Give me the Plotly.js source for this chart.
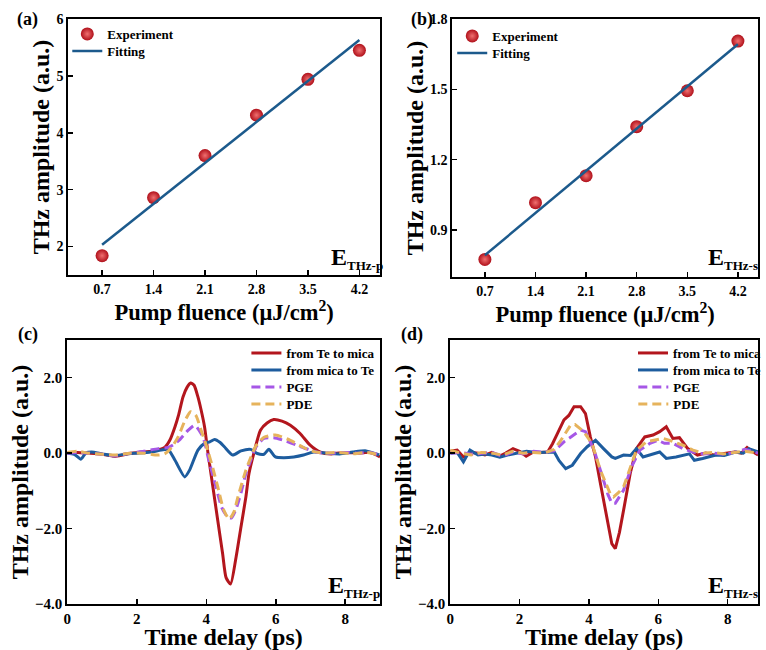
<!DOCTYPE html>
<html><head><meta charset="utf-8">
<script src="https://cdn.plot.ly/plotly-3.0.1.min.js"></script>
<style>html,body{margin:0;padding:0;background:#fff}#plot{width:766px;height:650px}</style>
</head><body><div id="plot"></div>
<script>
// ---- data (a), (b) ----
const fluence = [0.7, 1.4, 2.1, 2.8, 3.5, 4.2];
const ampP = [1.84, 2.86, 3.60, 4.31, 4.94, 5.45];
const ampS = [0.775, 1.017, 1.132, 1.341, 1.494, 1.706];
const fitX = [0.7, 4.2];
const fitP = [2.03, 5.63];
const fitS = [0.793, 1.692];

// ---- data (c) E_THz-p ----
const tCred = [0,0.3,0.6,1.0,1.4,1.8,2.2,2.5,2.8,2.95,3.1,3.2,3.33,3.45,3.55,3.65,3.76,3.85,3.95,4.05,4.19,4.33,4.47,4.57,4.70,4.85,5.0,5.14,5.23,5.37,5.56,5.75,5.94,6.18,6.42,6.70,6.99,7.27,7.6,8.0,8.4,8.7,9.0];
const vCred = [0,0.02,0.0,-0.03,-0.08,-0.01,0.03,0.06,0.15,0.34,0.70,1.0,1.49,1.75,1.86,1.80,1.49,1.15,0.70,0.0,-0.89,-1.78,-2.66,-3.30,-3.47,-2.80,-1.95,-1.16,-0.54,0.0,0.61,0.80,0.89,0.85,0.74,0.52,0.21,0.03,-0.02,0.02,0.0,0.02,-0.1];
const tCblue = [0,0.2,0.39,0.53,0.7,1.0,1.34,1.7,2.0,2.4,2.7,2.9,3.1,3.38,3.52,3.76,3.95,4.1,4.24,4.4,4.52,4.76,5.0,5.28,5.47,5.66,5.80,5.99,6.23,6.52,6.80,7.09,7.46,7.84,8.22,8.6,8.98];
const vCblue = [0,-0.03,-0.16,0.0,0.03,-0.02,-0.07,-0.02,0.0,0.03,0.08,0.1,-0.19,-0.63,-0.45,0.08,0.26,0.30,0.36,0.28,0.17,-0.05,0.06,0.10,-0.01,-0.03,0.10,-0.1,-0.12,-0.1,-0.05,0.03,0.0,-0.02,0.03,0.06,-0.05];
const tCpge = [0,0.3,0.6,1.0,1.4,1.8,2.2,2.62,2.9,3.05,3.24,3.48,3.67,3.85,3.95,4.05,4.28,4.45,4.62,4.72,4.85,5.0,5.14,5.28,5.42,5.66,5.94,6.23,6.61,6.99,7.27,7.6,8.0,8.4,8.7,9.0];
const vCpge = [0,0.02,0.0,-0.03,-0.07,0.0,0.05,0.12,0.15,0.22,0.36,0.61,0.74,0.52,0.30,-0.1,-0.9,-1.45,-1.70,-1.72,-1.50,-1.05,-0.54,-0.19,0.15,0.39,0.41,0.34,0.21,0.08,0.01,0.0,0.02,0.0,0.02,-0.05];
const tCpde = [0,0.3,0.6,1.0,1.4,1.8,2.2,2.6,2.8,3.0,3.19,3.38,3.55,3.7,3.85,3.95,4.05,4.19,4.33,4.5,4.66,4.80,4.90,5.14,5.28,5.42,5.66,5.99,6.42,6.80,7.1,7.4,7.8,8.2,8.6,9.0];
const vCpde = [0.02,0.05,0.0,-0.03,-0.05,0.0,0.0,-0.05,-0.02,0.15,0.43,0.85,1.10,1.00,0.61,0.35,0.05,-0.4,-0.89,-1.5,-1.75,-1.55,-1.2,-0.45,-0.12,0.18,0.42,0.48,0.34,0.15,0.04,0.0,0.02,-0.02,0.02,-0.05];

// ---- data (d) E_THz-s ----
const tDred = [0,0.2,0.38,0.6,0.8,1.0,1.2,1.43,1.6,1.81,2.0,2.19,2.4,2.6,2.81,2.95,3.09,3.28,3.42,3.57,3.76,3.90,4.04,4.19,4.33,4.52,4.66,4.76,4.88,5.0,5.19,5.37,5.61,5.85,6.04,6.23,6.33,6.42,6.61,6.85,7.13,7.37,7.6,7.9,8.2,8.4,8.56,8.7,8.88];
const vDred = [0.05,0.08,-0.1,0.02,0.0,-0.05,0.02,-0.08,0.0,0.12,0.05,-0.08,0.03,0.02,0.03,0.25,0.52,0.88,1.0,1.23,1.23,1.05,0.43,-0.1,-0.8,-1.78,-2.4,-2.53,-2.1,-1.51,-0.54,0.12,0.43,0.48,0.57,0.70,0.55,0.39,0.41,0.12,-0.05,0.0,-0.05,0.0,0.03,0.0,0.15,0.05,-0.05];
const tDblue = [0,0.2,0.38,0.57,0.8,1.0,1.2,1.43,1.65,1.9,2.2,2.5,2.8,3.0,3.14,3.33,3.52,3.76,3.95,4.19,4.42,4.66,4.76,5.0,5.2,5.37,5.56,5.85,6.04,6.23,6.51,6.9,7.04,7.28,7.66,7.9,8.23,8.45,8.61,8.88];
const vDblue = [0,0.02,-0.23,0.08,-0.05,-0.02,-0.05,-0.11,-0.05,0.0,0.05,0.02,0.03,0.03,-0.2,-0.41,-0.32,-0.01,0.17,0.34,0.12,-0.1,-0.14,-0.05,-0.06,0.12,-0.1,-0.02,0.03,-0.14,-0.1,-0.02,-0.19,-0.14,-0.05,-0.06,0.03,0.0,0.12,0.03];
const tDpge = [0,0.3,0.6,0.9,1.2,1.5,1.8,2.1,2.4,2.7,3.0,3.28,3.57,3.76,3.9,4.04,4.19,4.38,4.55,4.66,4.76,5.0,5.23,5.47,5.76,5.99,6.18,6.42,6.71,7.0,7.3,7.6,7.9,8.2,8.5,8.88];
const vDpge = [0,0.02,-0.03,0.0,0.02,-0.08,0.03,-0.02,0.05,0.02,0.06,0.30,0.48,0.61,0.57,0.30,-0.04,-0.63,-1.1,-1.33,-1.33,-0.98,-0.36,0.08,0.26,0.34,0.26,0.26,0.12,0.03,-0.02,0.0,-0.03,0.02,0.1,0.0];
const tDpde = [0,0.3,0.6,0.9,1.2,1.5,1.8,2.1,2.4,2.7,3.0,3.19,3.47,3.6,3.85,4.09,4.33,4.61,4.71,4.85,5.0,5.19,5.37,5.66,5.9,6.14,6.33,6.71,7.0,7.3,7.6,7.9,8.2,8.5,8.88];
const vDpde = [0.08,0.0,-0.05,0.02,0.0,-0.05,0.05,0.0,0.02,0.0,0.10,0.34,0.74,0.76,0.57,0.25,-0.45,-1.07,-1.16,-1.05,-0.89,-0.36,0.08,0.30,0.35,0.39,0.34,0.21,0.08,0.0,0.02,-0.02,0.02,0.05,0.0];

const names = ['from Te to mica', 'from mica to Te', 'PGE', 'PDE'];
const FONT = 'Liberation Serif, Times New Roman, serif';
const RED = '#B3161D', BLUE = '#1D5C9E', PURPLE = '#A657E6', ORANGE = '#E6B35C', FITC = '#1C5A8C';

const W = 766, H = 650;
const px = v => v / W, py = v => 1 - v / H;

const expMarker = {size: 13, color: '#B0101A', gradient: {type: 'radial', color: '#F07070'}, line: {width: 0}};

// one legend box per legend row, so the row spacing matches the figure
const legendBoxes = {};
let legendCount = 0;
function legendAt(x, yTop) {
  legendCount++;
  const key = legendCount === 1 ? 'legend' : 'legend' + legendCount;
  legendBoxes[key] = {x: px(x), y: py(yTop), xanchor: 'left', yanchor: 'top',
    bgcolor: 'rgba(0,0,0,0)', borderwidth: 0,
    font: {family: FONT, size: 13, color: '#000', weight: 'bold'}};
  return key;
}

const traces = [
  {x: fluence, y: ampP, mode: 'markers', name: 'Experiment', marker: expMarker, xaxis: 'x', yaxis: 'y', legend: legendAt(68, 19)},
  {x: fitX, y: fitP, mode: 'lines', name: 'Fitting', line: {color: FITC, width: 2.5}, xaxis: 'x', yaxis: 'y', legend: legendAt(68, 36)},
  {x: fluence, y: ampS, mode: 'markers', name: 'Experiment', marker: expMarker, xaxis: 'x2', yaxis: 'y2', legend: legendAt(457, 21)},
  {x: fitX, y: fitS, mode: 'lines', name: 'Fitting', line: {color: FITC, width: 2.5}, xaxis: 'x2', yaxis: 'y2', legend: legendAt(457, 38)}
];
function addSet(ts, vs, xa, ya, lx, shape) {
  const cols = [RED, BLUE, PURPLE, ORANGE];
  const rowTops = [338, 355, 372, 389];
  for (let i = 0; i < 4; i++) {
    traces.push({x: ts[i], y: vs[i], mode: 'lines', name: names[i],
      line: {color: cols[i], width: 3, dash: i >= 2 ? '9px,5px' : 'solid', shape: shape, smoothing: 0.6},
      xaxis: xa, yaxis: ya, legend: legendAt(lx, rowTops[i])});
  }
}
addSet([tCred, tCblue, tCpge, tCpde], [vCred, vCblue, vCpge, vCpde], 'x3', 'y3', 249, 'spline');
addSet([tDred, tDblue, tDpge, tDpde], [vDred, vDblue, vDpge, vDpde], 'x4', 'y4', 640, 'linear');

function ax(extra) {
  return Object.assign({
    showline: true, linewidth: 2, linecolor: '#000', mirror: true,
    ticks: 'inside', ticklen: 5, tickwidth: 1.5, tickcolor: '#000',
    showgrid: false, zeroline: false, automargin: false,
    tickfont: {family: FONT, size: 14, color: '#000', weight: 'bold'}
  }, extra);
}
const titleFont = s => ({family: FONT, size: s, color: '#000', weight: 'bold'});
const fluTitle = {text: 'Pump fluence (μJ/cm<sup>2</sup>)', font: titleFont(22.5), standoff: 6};
const ampTitle = {text: 'THz amplitude (a.u.)', font: titleFont(24), standoff: 0};
const tdTitle = {text: 'Time delay (ps)', font: titleFont(24), standoff: 5};
const tf15 = {family: FONT, size: 15, color: '#000', weight: 'bold'};

const subLabel = s => 'E<sub><span style="font-size:13px">' + s + '</span></sub>';

const layout = Object.assign({
  width: W, height: H, autosize: false,
  margin: {l: 0, r: 0, t: 0, b: 0},
  paper_bgcolor: '#fff', plot_bgcolor: '#fff',
  showlegend: true,
  xaxis: ax({domain: [px(69), px(384)], range: [0.24, 4.48], tickvals: fluence, ticktext: fluence.map(v => v.toFixed(1)), anchor: 'y', title: fluTitle}),
  yaxis: ax({domain: [py(275), py(19)], range: [1.5, 6], tickvals: [2, 3, 4, 5, 6], anchor: 'x', title: ampTitle}),
  xaxis2: ax({domain: [px(457), 1], range: [0.248, 4.478], tickvals: fluence, ticktext: fluence.map(v => v.toFixed(1)), anchor: 'y2', title: fluTitle}),
  yaxis2: ax({domain: [py(277), py(19)], range: [0.7, 1.8], tickvals: [0.9, 1.2, 1.5, 1.8], tickformat: '.1f', anchor: 'x2', title: ampTitle}),
  xaxis3: ax({domain: [px(68), px(384)], range: [0, 9], tickvals: [0, 2, 4, 6, 8], anchor: 'y3', title: tdTitle, tickfont: tf15}),
  yaxis3: ax({domain: [py(604), py(340)], range: [-4, 3], tickvals: [-4, -2, 0, 2], tickformat: '.1f', anchor: 'x3', title: ampTitle, tickfont: tf15}),
  xaxis4: ax({domain: [px(455), 1], range: [0, 8.876], tickvals: [0, 2, 4, 6, 8], anchor: 'y4', title: tdTitle, tickfont: tf15}),
  yaxis4: ax({domain: [py(604), py(340)], range: [-4, 3], tickvals: [-4, -2, 0, 2], tickformat: '.1f', anchor: 'x4', title: ampTitle, tickfont: tf15}),
  annotations: [
    {text: '(a)', x: px(28), y: py(19)},
    {text: '(b)', x: px(426), y: py(19)},
    {text: '(c)', x: px(28), y: py(335)},
    {text: '(d)', x: px(416), y: py(335)}
  ].map(a => Object.assign({xref: 'paper', yref: 'paper', xanchor: 'center', yanchor: 'middle', showarrow: false,
      font: {family: FONT, size: 18, color: '#000', weight: 'bold'}}, a)).concat([
    {text: subLabel('THz-p'), x: px(332), y: py(258)},
    {text: subLabel('THz-s'), x: px(713), y: py(258)},
    {text: subLabel('THz-p'), x: px(329), y: py(586)},
    {text: subLabel('THz-s'), x: px(713), y: py(586)}
  ].map(a => Object.assign({xref: 'paper', yref: 'paper', xanchor: 'left', yanchor: 'middle', showarrow: false,
      font: {family: FONT, size: 24, color: '#000', weight: 'bold'}}, a)))
}, legendBoxes);

Plotly.newPlot('plot', traces, layout, {staticPlot: true, displayModeBar: false});
</script>
</body></html>
